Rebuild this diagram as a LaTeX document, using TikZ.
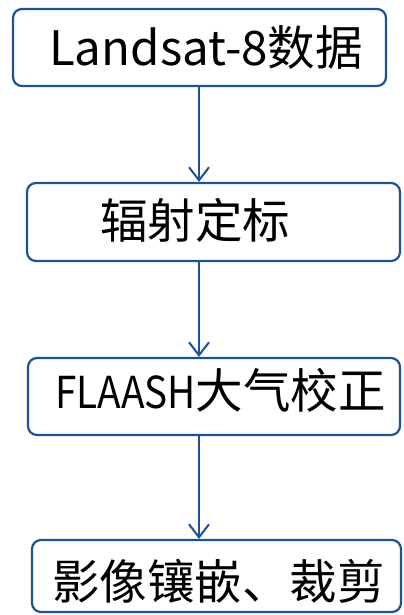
\documentclass[tikz,border=0pt]{standalone}
\usepackage{fontspec}
\setmainfont{Noto Sans CJK SC}
\usetikzlibrary{arrows.meta}
\definecolor{flowblue}{RGB}{28,82,150}
\tikzset{
  box/.style={draw=flowblue, line width=2.2bp, rounded corners=9bp, fill=white, inner sep=0pt},
  lbl/.style={anchor=base west, inner sep=0pt, font=\fontsize{47.5bp}{50bp}\selectfont},
  arr/.style={draw=flowblue, line width=2bp, -{Straight Barb[length=13bp, width=20bp, line width=2bp]}}
}
\begin{document}
\begin{tikzpicture}[x=1bp,y=-1bp]
\useasboundingbox (0,0) rectangle (403,615);
\node[box, minimum width=373bp, minimum height=77bp] (b1) at (199.5,47.5) {};
\node[box, minimum width=373bp, minimum height=78bp] (b2) at (213.5,222) {};
\node[box, minimum width=372bp, minimum height=77bp] (b3) at (214,396.5) {};
\node[box, minimum width=369bp, minimum height=72bp] (b4) at (216.5,576) {};
\node[lbl] (t1) at (49,66) {Landsat-8数据};
\node[lbl] (t2) at (100,238) {辐射定标};
\node[lbl] (t3) at (55,408) {\scalebox{0.88}[1]{\fontsize{44bp}{48bp}\selectfont FLAASH}大气校正};
\node[lbl] (t4) at (52,599) {影像镶嵌、裁剪};
\coordinate (ax) at (199,0);
\draw[arr] (b1.south -| ax) -- (b2.north -| ax);
\draw[arr] (b2.south -| ax) -- (b3.north -| ax);
\draw[arr] (b3.south -| ax) -- (b4.north -| ax);
\end{tikzpicture}
\end{document}
